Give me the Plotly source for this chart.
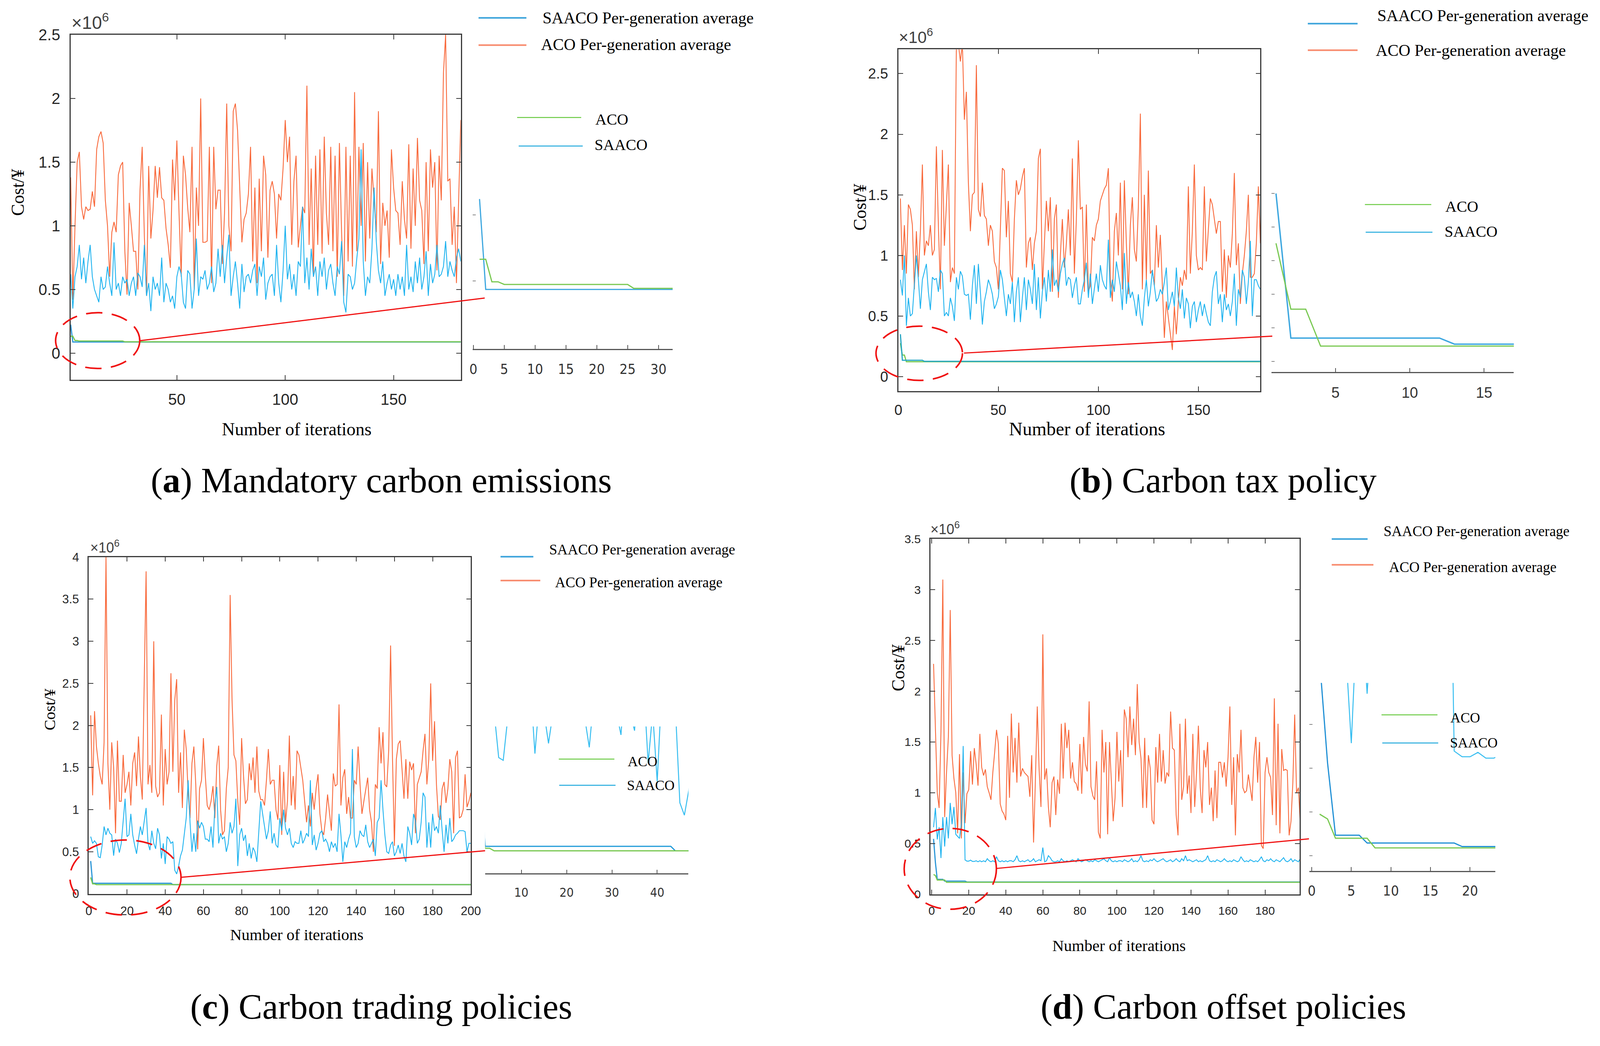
import plotly.graph_objects as go

# ---------------- data (cost values in units of 10^6) ----------------
a_aco_avg = [
    1.38, 0.42, 1.00, 1.50, 1.58, 1.15, 1.05, 1.15, 1.12, 1.13,
    1.27, 1.15, 1.60, 1.70, 1.74, 1.65, 1.20, 1.00, 0.60, 0.95,
    1.03, 0.95, 1.40, 1.47, 1.50, 0.80, 0.46, 1.18, 1.00, 0.80,
    0.80, 0.50, 1.28, 1.62, 0.92, 0.45, 1.47, 0.90, 1.12, 1.47,
    1.22, 1.46, 1.22, 1.20, 0.98, 0.85, 0.67, 1.52, 1.20, 1.67,
    1.10, 0.60, 1.55, 1.40, 1.14, 0.95, 1.62, 0.50, 1.30, 1.00,
    2.00, 0.87, 0.87, 0.88, 1.62, 0.55, 1.62, 1.13, 1.28, 1.28,
    0.70, 1.10, 1.96, 1.00, 0.80, 1.90, 1.96, 1.75, 1.30, 0.87,
    1.05, 1.10, 1.25, 1.62, 0.72, 1.30, 0.55, 1.37, 0.80, 1.55,
    1.40, 0.75, 1.28, 1.35, 1.25, 0.90, 1.25, 1.20, 1.45, 1.83,
    1.50, 1.70, 0.85, 1.35, 1.55, 0.83, 1.00, 1.15, 1.10, 2.10,
    0.85, 1.45, 0.60, 1.55, 0.85, 1.60, 0.78, 1.70, 1.10, 0.85,
    1.62, 0.80, 1.55, 0.60, 1.65, 0.95, 0.45, 1.62, 0.72, 1.55,
    0.68, 2.05, 0.80, 1.62, 1.00, 1.65, 0.72, 1.50, 0.90, 1.45,
    1.20, 0.95, 1.90, 0.70, 1.18, 1.00, 1.12, 0.75, 1.60, 1.30,
    1.12, 1.10, 0.85, 1.35, 1.05, 0.90, 1.64, 0.82, 1.45, 1.00,
    1.69, 1.20, 1.12, 0.70, 1.50, 0.80, 1.60, 1.30, 1.50, 0.65,
    1.55, 1.20, 2.20, 2.50, 1.35, 1.37, 0.85, 1.15, 0.55, 1.20,
    1.83]
a_saaco_avg = [
    0.62, 0.35, 0.60, 0.68, 0.85, 0.58, 0.75, 0.55, 0.72, 0.85,
    0.60, 0.50, 0.45, 0.40, 0.60, 0.50, 0.52, 0.68, 0.55, 0.45,
    0.87, 0.50, 0.55, 0.45, 0.60, 0.55, 0.58, 0.45, 0.55, 0.60,
    0.45, 0.63, 0.60, 0.52, 0.85, 0.45, 0.55, 0.33, 0.60, 0.50,
    0.55, 0.45, 0.75, 0.40, 0.55, 0.50, 0.40, 0.45, 0.35, 0.60,
    0.68, 0.62, 0.40, 0.35, 0.65, 0.62, 0.35, 0.50, 0.90, 0.45,
    0.60, 0.58, 0.65, 0.50, 0.55, 0.68, 0.48, 0.55, 0.82, 0.60,
    0.85, 0.55, 0.75, 0.93, 0.45, 0.60, 0.72, 0.55, 0.35, 0.70,
    0.48, 0.60, 0.62, 0.55, 0.65, 0.70, 0.45, 0.68, 0.60, 0.75,
    0.42, 0.55, 0.60, 0.62, 0.45, 0.85, 0.55, 0.40, 0.65, 1.00,
    0.58, 0.70, 0.50, 0.62, 0.45, 0.72, 0.68, 1.15, 0.55, 0.75,
    0.50, 0.82, 0.60, 0.68, 0.45, 0.72, 0.60, 0.75, 0.50, 0.65,
    0.70, 0.55, 0.45, 0.68, 0.62, 0.88, 0.40, 0.32, 0.62, 0.60,
    0.50, 0.55, 0.74, 0.90, 1.60, 0.72, 0.45, 0.60, 0.55, 0.82,
    1.30, 0.88, 0.65, 0.55, 0.72, 0.45, 0.55, 0.62, 0.50, 0.58,
    0.45, 0.62, 0.50, 0.60, 0.45, 0.85, 0.50, 0.60, 0.48, 0.72,
    0.55, 0.75, 0.50, 0.60, 0.80, 0.45, 0.70, 0.55, 0.62, 0.85,
    0.60, 0.62, 0.68, 0.88, 0.60, 0.72, 0.65, 0.60, 0.75, 0.82,
    0.72]
a_saaco_best_x = [1, 2, 181]
a_saaco_best = [0.224, 0.0875, 0.0875]
a_aco_best_x = [1, 2, 3, 4, 5, 25, 26, 181]
a_aco_best = [0.133, 0.133, 0.099, 0.099, 0.095, 0.095, 0.089, 0.089]

b_aco_avg = [
    1.47, 0.88, 1.25, 0.85, 1.42, 1.38, 1.25, 0.72, 1.20, 0.82,
    1.20, 1.75, 1.00, 1.12, 1.08, 1.25, 1.00, 1.05, 1.90, 1.25,
    0.72, 1.87, 1.08, 1.40, 1.75, 0.78, 0.90, 0.85, 2.75, 2.75,
    2.60, 2.75, 2.12, 2.35, 1.60, 1.20, 1.50, 1.52, 2.57, 1.38,
    1.32, 1.60, 1.33, 1.30, 1.08, 1.25, 1.20, 0.95, 0.90, 0.72,
    1.20, 1.72, 1.70, 1.15, 1.45, 0.85, 0.78, 1.30, 1.62, 1.50,
    1.55, 1.65, 1.72, 0.90, 1.10, 1.15, 0.88, 1.10, 1.20, 1.80,
    1.88, 0.72, 1.10, 1.45, 1.20, 1.48, 0.70, 1.30, 1.42, 0.65,
    1.00, 1.30, 0.90, 1.10, 1.38, 1.00, 1.80, 0.85, 1.30, 1.95,
    1.38, 1.40, 0.70, 1.42, 0.70, 0.75, 1.15, 1.12, 1.25, 1.30,
    1.45, 1.50, 1.55, 1.58, 1.72, 0.80, 0.62, 1.20, 1.35, 1.00,
    1.60, 0.72, 1.62, 1.10, 0.68, 1.25, 1.48, 1.05, 0.95, 1.40,
    2.17, 0.72, 1.50, 0.80, 1.70, 0.85, 0.88, 0.75, 1.25, 0.90,
    1.17, 0.75, 0.32, 0.62, 0.48, 0.35, 0.22, 0.58, 0.35, 0.62,
    0.82, 0.75, 0.88, 0.80, 1.57, 0.85, 1.20, 1.75, 1.00, 0.88,
    0.90, 0.88, 1.57, 0.95, 1.20, 1.47, 1.42, 1.30, 1.18, 1.28,
    1.28, 0.70, 1.05, 0.65, 1.00, 0.90, 1.18, 1.68, 0.92, 1.10,
    0.60, 0.85, 1.00, 1.20, 1.50, 0.82, 0.82, 0.85, 1.10, 1.57,
    1.10]
b_saaco_avg = [
    0.80, 0.67, 1.00, 0.42, 0.65, 0.50, 0.52, 0.75, 1.00, 0.80,
    0.56, 0.80, 0.87, 0.93, 0.70, 0.55, 0.82, 0.80, 0.81, 0.70,
    0.88, 0.85, 0.50, 0.53, 0.50, 0.65, 0.58, 0.46, 0.82, 0.72,
    0.87, 0.83, 0.68, 0.67, 0.68, 0.47, 0.75, 0.92, 0.60, 0.93,
    0.70, 0.43, 0.62, 0.70, 0.80, 0.75, 0.68, 0.56, 0.60, 0.66,
    0.88, 0.80, 0.65, 0.50, 0.68, 0.60, 0.78, 0.45, 0.70, 0.82,
    0.45, 0.65, 0.82, 0.55, 0.80, 0.72, 0.60, 0.93, 0.55, 0.82,
    0.48, 0.70, 0.82, 0.62, 0.88, 0.70, 1.05, 0.75, 0.80, 0.70,
    0.85, 0.93, 0.98, 0.75, 0.82, 0.80, 0.65, 0.75, 0.82, 0.60,
    0.60, 0.72, 0.80, 0.94, 0.65, 0.85, 0.60, 0.72, 0.85, 0.70,
    0.92, 0.80, 0.75, 0.72, 1.13, 0.65, 0.80, 0.70, 0.95, 0.85,
    0.75, 0.55, 1.02, 0.60, 0.78, 0.65, 0.70, 0.62, 0.50, 0.68,
    0.50, 0.42, 0.65, 0.80, 0.58, 0.70, 0.88, 0.75, 0.62, 0.65,
    0.72, 0.68, 0.78, 0.90, 0.55, 0.62, 0.70, 0.58, 0.90, 0.65,
    0.56, 0.72, 0.48, 0.65, 0.60, 0.40, 0.58, 0.62, 0.45, 0.55,
    0.62, 0.50, 0.60, 0.52, 0.45, 0.42, 0.70, 0.82, 0.87, 0.60,
    0.68, 0.45, 0.68, 0.55, 0.60, 0.50, 0.62, 0.85, 0.42, 0.72,
    0.65, 0.88, 0.82, 0.60, 0.78, 1.12, 0.50, 0.80, 0.80, 0.75,
    0.72]
b_saaco_best_x = [1, 2, 12, 13, 181]
b_saaco_best = [0.35, 0.135, 0.135, 0.126, 0.126]
b_aco_best_x = [1, 2, 3, 4, 181]
b_aco_best = [0.276, 0.178, 0.178, 0.123, 0.123]

c_aco_avg = [
    2.12, 1.17, 2.17, 1.75, 1.55, 1.40, 1.30, 1.80, 4.00, 1.55,
    1.00, 1.80, 1.50, 0.72, 1.82, 1.10, 1.10, 1.65, 1.20, 1.30,
    1.45, 1.05, 1.55, 1.68, 1.28, 1.87, 1.40, 1.12, 2.50, 3.83,
    1.30, 1.53, 1.20, 3.00, 1.28, 1.15, 1.20, 2.13, 1.05, 1.72,
    1.30, 1.45, 2.62, 1.45, 2.30, 2.55, 1.20, 1.68, 1.02, 1.95,
    1.72, 1.20, 0.90, 1.55, 1.75, 1.30, 0.53, 1.25, 1.35, 1.85,
    1.40, 1.05, 1.00, 1.10, 1.28, 0.90, 1.52, 1.76, 1.00, 0.70,
    0.75, 1.25, 1.50, 3.55, 2.30, 1.65, 1.58, 1.10, 0.82, 1.85,
    1.40, 1.07, 1.12, 1.55, 1.35, 1.62, 1.20, 1.75, 1.22, 1.12,
    1.12, 1.05, 1.35, 1.72, 1.30, 1.35, 1.35, 1.00, 0.88, 1.53,
    0.70, 1.45, 0.85, 1.10, 1.88, 1.05, 1.40, 1.00, 1.70, 1.65,
    1.50, 1.35, 1.10, 0.85, 1.05, 0.80, 1.20, 1.00, 1.25, 1.42,
    0.95, 0.75, 0.70, 0.90, 1.18, 0.95, 0.75, 1.43, 1.28, 1.30,
    2.25, 1.05, 1.38, 1.48, 0.95, 1.15, 0.90, 0.90, 1.35, 1.30,
    1.75, 1.30, 0.95, 1.10, 1.25, 1.38, 1.00, 0.85, 0.50, 1.30,
    1.25, 1.98, 1.55, 1.92, 1.30, 1.27, 1.70, 2.95, 1.60, 0.57,
    1.60, 1.78, 1.82, 1.45, 1.13, 1.60, 1.13, 1.57, 1.47, 1.55,
    0.72, 1.30, 1.38, 1.45, 1.70, 1.90, 1.30, 1.60, 2.50, 1.58,
    2.05, 1.30, 0.92, 0.88, 1.25, 1.33, 1.08, 1.25, 1.60, 1.45,
    0.72, 1.62, 1.70, 0.90, 0.92, 1.00, 1.42, 1.03, 1.10, 1.20]
c_saaco_avg = [
    0.68, 0.60, 0.63, 0.60, 0.44, 0.43, 0.58, 0.80, 0.70, 0.78,
    0.72, 0.70, 0.454, 0.65, 0.60, 0.49, 0.60, 0.85, 1.13, 0.68,
    0.70, 0.95, 0.70, 0.58, 0.476, 0.65, 0.80, 0.70, 0.85, 1.02,
    0.60, 0.52, 0.75, 0.60, 0.535, 0.78, 0.70, 0.42, 0.60, 0.355,
    0.68, 0.65, 0.60, 0.62, 0.28, 0.236, 0.327, 0.45, 0.52, 0.72,
    0.90, 1.35, 0.85, 0.50, 0.72, 0.50, 0.87, 0.78, 0.85, 0.80,
    0.65, 0.65, 0.62, 0.80, 0.55, 1.05, 1.27, 0.60, 0.72, 0.65,
    0.68, 0.50, 0.60, 0.85, 0.72, 0.80, 1.13, 0.33, 0.70, 0.78,
    0.63, 0.70, 0.45, 0.60, 0.42, 0.55, 0.50, 0.38, 0.75, 1.10,
    0.95, 0.80, 0.65, 0.75, 0.98, 0.60, 0.72, 0.58, 0.55, 0.90,
    0.75, 1.00, 0.78, 0.70, 0.78, 0.60, 0.55, 0.62, 0.60, 0.60,
    0.75, 0.60, 0.65, 0.72, 0.68, 1.35, 0.58, 0.70, 0.52, 0.60,
    0.72, 0.75, 0.62, 0.65, 0.60, 0.50, 0.62, 0.55, 0.60, 0.50,
    0.95, 0.70, 0.38, 0.62, 0.55, 0.65, 0.72, 1.72, 0.68, 0.55,
    0.60, 0.75, 0.70, 0.68, 0.82, 0.62, 0.55, 0.60, 0.65, 0.45,
    0.85, 0.90, 1.35, 1.00, 0.70, 0.50, 0.48, 0.58, 0.62, 0.45,
    0.50, 0.58, 0.48, 0.60, 0.45, 0.38, 0.80, 0.72, 0.58, 0.95,
    0.87, 0.60, 0.65, 0.85, 1.20, 1.15, 0.55, 0.85, 0.55, 0.95,
    0.75, 0.80, 0.72, 1.05, 0.75, 0.50, 0.82, 0.60, 0.90, 0.62,
    0.65, 0.70, 0.72, 0.75, 0.75, 0.75, 0.74, 0.50, 0.60, 0.60]
c_saaco_best_x = [1, 2, 43, 44, 200]
c_saaco_best = [0.39, 0.126, 0.126, 0.11, 0.11]
c_aco_best_x = [1, 2, 3, 4, 200]
c_aco_best = [0.195, 0.119, 0.119, 0.11, 0.11]

d_aco_avg = [
    2.27, 1.60, 1.00, 0.85, 1.60, 3.10, 0.76, 1.20, 1.55, 2.80,
    1.37, 1.14, 1.00, 0.60, 1.38, 0.55, 1.20, 0.70, 0.99, 1.03,
    1.41, 1.08, 1.44, 1.28, 1.07, 1.58, 1.25, 1.17, 1.23, 1.06,
    1.00, 0.93, 1.20, 1.40, 1.62, 1.48, 0.89, 0.82, 0.79, 0.73,
    1.56, 0.95, 1.78, 1.20, 1.54, 1.10, 1.69, 1.16, 1.24, 1.20,
    1.18, 1.16, 0.96, 1.37, 0.51, 1.13, 1.85, 1.23, 0.86, 2.56,
    1.13, 1.24, 0.86, 0.66, 1.10, 1.16, 0.78, 1.13, 0.99, 1.68,
    1.14, 1.69, 1.44, 1.62, 1.14, 1.30, 1.11, 1.09, 1.02, 1.48,
    0.99, 1.55, 1.28, 1.21, 1.90, 1.06, 0.97, 0.93, 1.31, 0.61,
    0.55, 1.62, 1.20, 1.50, 0.59, 1.50, 1.11, 0.72, 0.95, 1.60,
    1.11, 1.42, 0.86, 1.82, 1.73, 1.35, 1.85, 1.47, 1.73, 1.37,
    2.07, 1.50, 1.34, 0.85, 1.54, 0.85, 1.37, 1.24, 0.73, 0.69,
    1.45, 1.10, 1.58, 1.11, 1.42, 1.09, 1.20, 1.16, 1.80, 1.44,
    1.42, 0.78, 0.58, 1.68, 0.93, 1.06, 1.73, 0.99, 1.17, 0.80,
    1.58, 0.86, 1.20, 1.66, 1.05, 0.80, 1.42, 1.25, 1.50, 0.88,
    1.05, 0.72, 1.22, 0.75, 1.30, 1.30, 1.15, 1.30, 1.06, 1.35,
    1.85, 0.88, 1.35, 0.58, 1.38, 1.20, 1.62, 1.05, 1.00, 1.02,
    1.18, 1.05, 0.92, 1.35, 1.55, 1.10, 1.50, 0.48, 0.45, 1.20,
    1.35, 1.20, 1.15, 0.78, 1.93, 0.68, 1.68, 0.60, 1.43, 1.22,
    1.23, 1.22, 0.58, 0.72, 1.10, 1.77, 1.00, 1.05, 0.70]
d_saaco_avg = [
    0.66, 0.85, 0.54, 0.66, 0.357, 0.76, 0.47, 0.76, 0.55, 0.90,
    0.69, 0.86, 0.59, 0.57, 0.55, 0.69, 1.46, 0.339, 0.326, 0.326,
    0.336, 0.323, 0.323, 0.33, 0.32, 0.33, 0.32, 0.33, 0.32, 0.35,
    0.33, 0.32, 0.33, 0.32, 0.37, 0.33, 0.32, 0.33, 0.32, 0.33,
    0.32, 0.33, 0.33, 0.32, 0.34, 0.38, 0.33, 0.32, 0.33, 0.32,
    0.33, 0.34, 0.32, 0.33, 0.35, 0.32, 0.33, 0.34, 0.33, 0.46,
    0.32, 0.33, 0.38, 0.36, 0.33, 0.32, 0.32, 0.33, 0.32, 0.35,
    0.33, 0.32, 0.33, 0.32, 0.33, 0.34, 0.33, 0.32, 0.35, 0.33,
    0.32, 0.33, 0.34, 0.33, 0.32, 0.33, 0.32, 0.34, 0.33, 0.32,
    0.33, 0.34, 0.35, 0.33, 0.32, 0.36, 0.33, 0.32, 0.33, 0.32,
    0.33, 0.33, 0.32, 0.34, 0.33, 0.32, 0.33, 0.35, 0.32, 0.33,
    0.32, 0.34, 0.38, 0.33, 0.32, 0.33, 0.32, 0.34, 0.33, 0.35,
    0.33, 0.32, 0.33, 0.34, 0.35, 0.33, 0.32, 0.33, 0.34, 0.32,
    0.33, 0.35, 0.33, 0.32, 0.35, 0.33, 0.38, 0.33, 0.34, 0.33,
    0.32, 0.33, 0.34, 0.32, 0.33, 0.32, 0.33, 0.34, 0.38, 0.33,
    0.32, 0.33, 0.32, 0.34, 0.33, 0.32, 0.33, 0.35, 0.33, 0.32,
    0.33, 0.32, 0.34, 0.33, 0.32, 0.33, 0.37, 0.34, 0.32, 0.33,
    0.32, 0.34, 0.33, 0.32, 0.33, 0.32, 0.34, 0.37, 0.33, 0.32,
    0.34, 0.33, 0.35, 0.33, 0.32, 0.34, 0.33, 0.32, 0.34, 0.36,
    0.33, 0.32, 0.33, 0.35, 0.32, 0.34, 0.33, 0.32, 0.35]
d_saaco_best_x = [1, 2, 3, 6, 7, 18, 19, 199]
d_saaco_best = [0.546, 0.312, 0.147, 0.147, 0.129, 0.129, 0.121, 0.121]
d_aco_best_x = [1, 2, 3, 7, 8, 199]
d_aco_best = [0.195, 0.184, 0.14, 0.14, 0.118, 0.118]

captions = ['Mandatory carbon emissions', 'Carbon tax policy',
            'Carbon trading policies', 'Carbon offset policies']
legend_avg = ['SAACO Per-generation average', 'ACO Per-generation average']
legend_best = ['ACO', 'SAACO']

# ---------------- styling ----------------
W, H = 4146, 2677
SERIF = 'Liberation Serif, Times New Roman, serif'
SANS = 'Liberation Sans, Arial, sans-serif'
NARROW = 'Liberation Sans Narrow, Arial Narrow, DejaVu Sans Condensed, sans-serif'
ORANGE = '#F8683A'
ORANGE_LEG = '#F8896B'
CYAN = '#1FB3EF'
BLUE = '#2A96D8'
GREEN = '#78C850'
RED = '#F01010'
AX = '#3a3a3a'

# the photographed page comes out slightly shifted/stretched; undo that here
SHIFT_X, STRETCH_X, SHIFT_Y = 8.0, 1.0035, 17.0


def fx(p):
    return ((p - SHIFT_X) / STRETCH_X) / W


def fy(p):
    return 1 - (p - SHIFT_Y) / H


fig = go.Figure()


def add_line(x, y, color, width, n):
    s = '' if n == 1 else str(n)
    fig.add_trace(go.Scatter(x=x, y=y, mode='lines', line=dict(color=color, width=width),
                             xaxis='x' + s, yaxis='y' + s, showlegend=False,
                             hoverinfo='skip'))


def idx(vals):
    return list(range(1, len(vals) + 1))


layout_axes = {}


def main_axes(n, bx, by, xr, yr, xt, yt, fs):
    s = '' if n == 1 else str(n)
    common = dict(showline=True, linecolor=AX, linewidth=2.5, mirror='ticks',
                  ticks='inside', ticklen=12, tickwidth=2, tickcolor=AX,
                  showgrid=False, zeroline=False,
                  tickfont=dict(family=SANS, size=fs, color='#262626'))
    layout_axes['xaxis' + s] = dict(common, domain=[fx(bx[0]), fx(bx[1])], range=xr,
                                    anchor='y' + s, tickvals=xt, ticklabelstandoff=14)
    layout_axes['yaxis' + s] = dict(common, domain=[fy(by[1]), fy(by[0])], range=yr,
                                    anchor='x' + s, tickvals=yt, ticklabelstandoff=16)


def inset_axes(n, bx, by, xr, yr, xt, yt, fs, family):
    s = str(n)
    layout_axes['xaxis' + s] = dict(domain=[fx(bx[0]), fx(bx[1])], range=xr, anchor='y' + s,
                                    showline=True, linecolor='#555', linewidth=2.5,
                                    ticks='inside', ticklen=10, tickwidth=2, tickcolor='#555',
                                    tickvals=xt, showgrid=False, zeroline=False,
                                    ticklabelstandoff=18,
                                    tickfont=dict(family=family, size=fs, color='#333'))
    layout_axes['yaxis' + s] = dict(domain=[fy(by[1]), fy(by[0])], range=yr, anchor='x' + s,
                                    showline=False, ticks='inside' if yt else '',
                                    ticklen=8, tickwidth=2, tickcolor='#888', tickvals=yt,
                                    showticklabels=False, showgrid=False, zeroline=False)


# panel (a)
add_line(idx(a_aco_avg), a_aco_avg, ORANGE, 2.2, 1)
add_line(idx(a_saaco_avg), a_saaco_avg, CYAN, 2.2, 1)
add_line(a_saaco_best_x, a_saaco_best, BLUE, 3, 1)
add_line(a_aco_best_x, a_aco_best, GREEN, 3, 1)
add_line(a_saaco_best_x, a_saaco_best, '#3BA6DF', 3, 2)
add_line(a_aco_best_x, a_aco_best, GREEN, 3, 2)
main_axes(1, (181, 1192), (85, 981), [1, 181], [-0.208, 2.5],
          [50, 100, 150], [0, 0.5, 1, 1.5, 2, 2.5], 40)
inset_axes(2, (1223, 1741), (467, 901), [-0.1, 32.3], [-0.0023, 0.25],
           [0, 5, 10, 15, 20, 25, 30], [0.1, 0.2], 36, NARROW)

# panel (b)
add_line(idx(b_aco_avg), b_aco_avg, ORANGE, 2.2, 3)
add_line(idx(b_saaco_avg), b_saaco_avg, CYAN, 2.2, 3)
add_line(b_aco_best_x, b_aco_best, GREEN, 3, 3)
add_line(b_saaco_best_x, b_saaco_best, '#26A6C4', 3, 3)
add_line(b_saaco_best_x, b_saaco_best, '#3BA6DF', 3.5, 4)
add_line(b_aco_best_x, b_aco_best, GREEN, 3, 4)
main_axes(3, (2326, 3264), (123, 1011), [0, 181], [-0.12, 2.70],
          [0, 50, 100, 150], [0, 0.5, 1, 1.5, 2, 2.5], 37)
inset_axes(4, (3293, 3921), (480, 961), [0.7, 17], [0.0846, 0.36],
           [5, 10, 15], [0.10, 0.15, 0.20, 0.25, 0.30, 0.35], 38, SANS)

# panel (c)
add_line(idx(c_aco_avg), c_aco_avg, ORANGE, 2.2, 5)
add_line(idx(c_saaco_avg), c_saaco_avg, CYAN, 2.2, 5)
add_line(c_saaco_best_x, c_saaco_best, BLUE, 3, 5)
add_line(c_aco_best_x, c_aco_best, GREEN, 3, 5)
add_line(idx(c_saaco_avg), c_saaco_avg, '#35BDF0', 2.5, 6)
add_line(c_saaco_best_x, c_saaco_best, '#1E9AD8', 3, 6)
add_line(c_aco_best_x, c_aco_best, GREEN, 3, 6)
main_axes(5, (228, 1218), (1442, 2317), [0, 200], [0, 4],
          list(range(0, 201, 20)), [0, 0.5, 1, 1.5, 2, 2.5, 3, 3.5, 4], 31)
inset_axes(6, (1255, 1782), (1882, 2264), [2, 46.9], [0.03, 0.55],
           [10, 20, 30, 40], [], 32, NARROW)

# panel (d)
add_line(idx(d_aco_avg), d_aco_avg, ORANGE, 2.2, 7)
add_line(idx(d_saaco_avg), d_saaco_avg, CYAN, 2.2, 7)
add_line(d_saaco_best_x, d_saaco_best, BLUE, 3, 7)
add_line(d_aco_best_x, d_aco_best, GREEN, 3, 7)
add_line(idx(d_saaco_avg), d_saaco_avg, '#35BDF0', 2.5, 8)
add_line(d_saaco_best_x, d_saaco_best, '#1E8FD5', 3, 8)
add_line(d_aco_best_x, d_aco_best, GREEN, 3, 8)
main_axes(7, (2409, 3366), (1395, 2318), [-0.7, 198.7], [0, 3.5],
          list(range(0, 181, 20)), [0, 0.5, 1, 1.5, 2, 2.5, 3, 3.5], 30)
inset_axes(8, (3391, 3873), (1769, 2257), [-0.3, 23.2], [0.0657, 0.4946],
           [0, 5, 10, 15, 20], [0.1, 0.2, 0.3, 0.4], 36, NARROW)

# ---------------- text and decorations ----------------
annotations = []
shapes = []


def ann(text, x, y, size, family=SERIF, xanchor='left', yanchor='middle', angle=0,
        color='black'):
    annotations.append(dict(text=text, x=fx(x), y=fy(y), xref='paper', yref='paper',
                            xanchor=xanchor, yanchor=yanchor, showarrow=False,
                            textangle=angle, font=dict(family=family, size=size, color=color)))


def seg(x0, y0, x1, y1, color, width, dash='solid'):
    shapes.append(dict(type='line', xref='paper', yref='paper', x0=fx(x0), y0=fy(y0),
                       x1=fx(x1), y1=fy(y1), line=dict(color=color, width=width, dash=dash)))


def ellipse(x0, y0, x1, y1):
    shapes.append(dict(type='circle', xref='paper', yref='paper', x0=fx(x0), y0=fy(y1),
                       x1=fx(x1), y1=fy(y0),
                       line=dict(color=RED, width=4, dash='42px,24px')))


# per panel: exponent label, axis titles, legends, zoom marks, caption
panel_text = [
    dict(exp=(181, 82, 46), cost=(44, 495, 46), it=(767, 1110, 46),
         avg=((1238, 1362, 41, 1402, 41), (1238, 1362, 112, 1398, 110), 42),
         best=((1338, 1504, 300, 1539, 305), (1342, 1508, 374, 1537, 371), 40),
         ell=(142, 807, 360, 952), link=(360, 880, 1254, 769), cap=(986, 1243)),
    dict(exp=(2325, 118, 42), cost=(2226, 533, 46), it=(2815, 1109, 48),
         avg=((3387, 3516, 56, 3565, 35), (3387, 3516, 125, 3561, 126), 42),
         best=((3535, 3707, 526, 3741, 531), (3537, 3710, 598, 3739, 596), 40),
         ell=(2268, 842, 2492, 983), link=(2496, 912, 3295, 868), cap=(3168, 1243)),
    dict(exp=(230, 1440, 36), cost=(126, 1838, 41), it=(767, 2423, 41),
         avg=((1295, 1380, 1441, 1419, 1422), (1295, 1398, 1503, 1434, 1508), 37),
         best=((1446, 1590, 1967, 1623, 1973), (1447, 1593, 2035, 1621, 2035), 36),
         ell=(179, 2177, 467, 2372), link=(467, 2274, 1255, 2205), cap=(986, 2610)),
    dict(exp=(2407, 1393, 36), cost=(2326, 1730, 46), it=(2898, 2451, 41),
         avg=((3449, 3542, 1395, 3581, 1375), (3449, 3557, 1462, 3596, 1468), 37),
         best=((3578, 3723, 1852, 3754, 1860), (3580, 3725, 1925, 3753, 1925), 36),
         ell=(2341, 2147, 2580, 2357), link=(2580, 2251, 3390, 2174), cap=(3168, 2610)),
]

for i, p in enumerate(panel_text):
    ex, ey, es = p['exp']
    ann('×10<sup>6</sup>', ex, ey, es, family=SANS, yanchor='bottom', color='#404040')
    cx, cy, cs = p['cost']
    ann('Cost/¥', cx, cy, cs, xanchor='center', angle=-90)
    ix, iy, isz = p['it']
    ann('Number of iterations', ix, iy, isz, xanchor='center')
    l1, avg_fs = p['avg'][:2], p['avg'][2]
    for (x0, x1, ly, tx, ty), label, col in zip(l1, legend_avg, ['#3BA3DB', ORANGE_LEG]):
        seg(x0, ly, x1, ly, col, 4)
        ann(label, tx, ty, avg_fs)
    l2, best_fs = p['best'][:2], p['best'][2]
    for (x0, x1, ly, tx, ty), label, col in zip(l2, legend_best, ['#6CCB45', '#22AADD']):
        seg(x0, ly, x1, ly, col, 2.5)
        ann(label, tx, ty, best_fs)
    ellipse(*p['ell'])
    seg(*p['link'], RED, 3)
    cx, cy = p['cap']
    ann('(<b>' + 'abcd'[i] + '</b>) ' + captions[i], cx, cy, 91, xanchor='center')

fig.update_layout(width=W, height=H, margin=dict(l=0, r=0, t=0, b=0), autosize=False,
                  paper_bgcolor='white', plot_bgcolor='rgba(0,0,0,0)',
                  showlegend=False, annotations=annotations, shapes=shapes, **layout_axes)

# the figure fills the whole window, so drop the page's default body margin
fig.write_html('out.html', config={'displayModeBar': False},
               post_script="document.body.style.margin='0px';"
                           "document.body.style.overflow='hidden';")
